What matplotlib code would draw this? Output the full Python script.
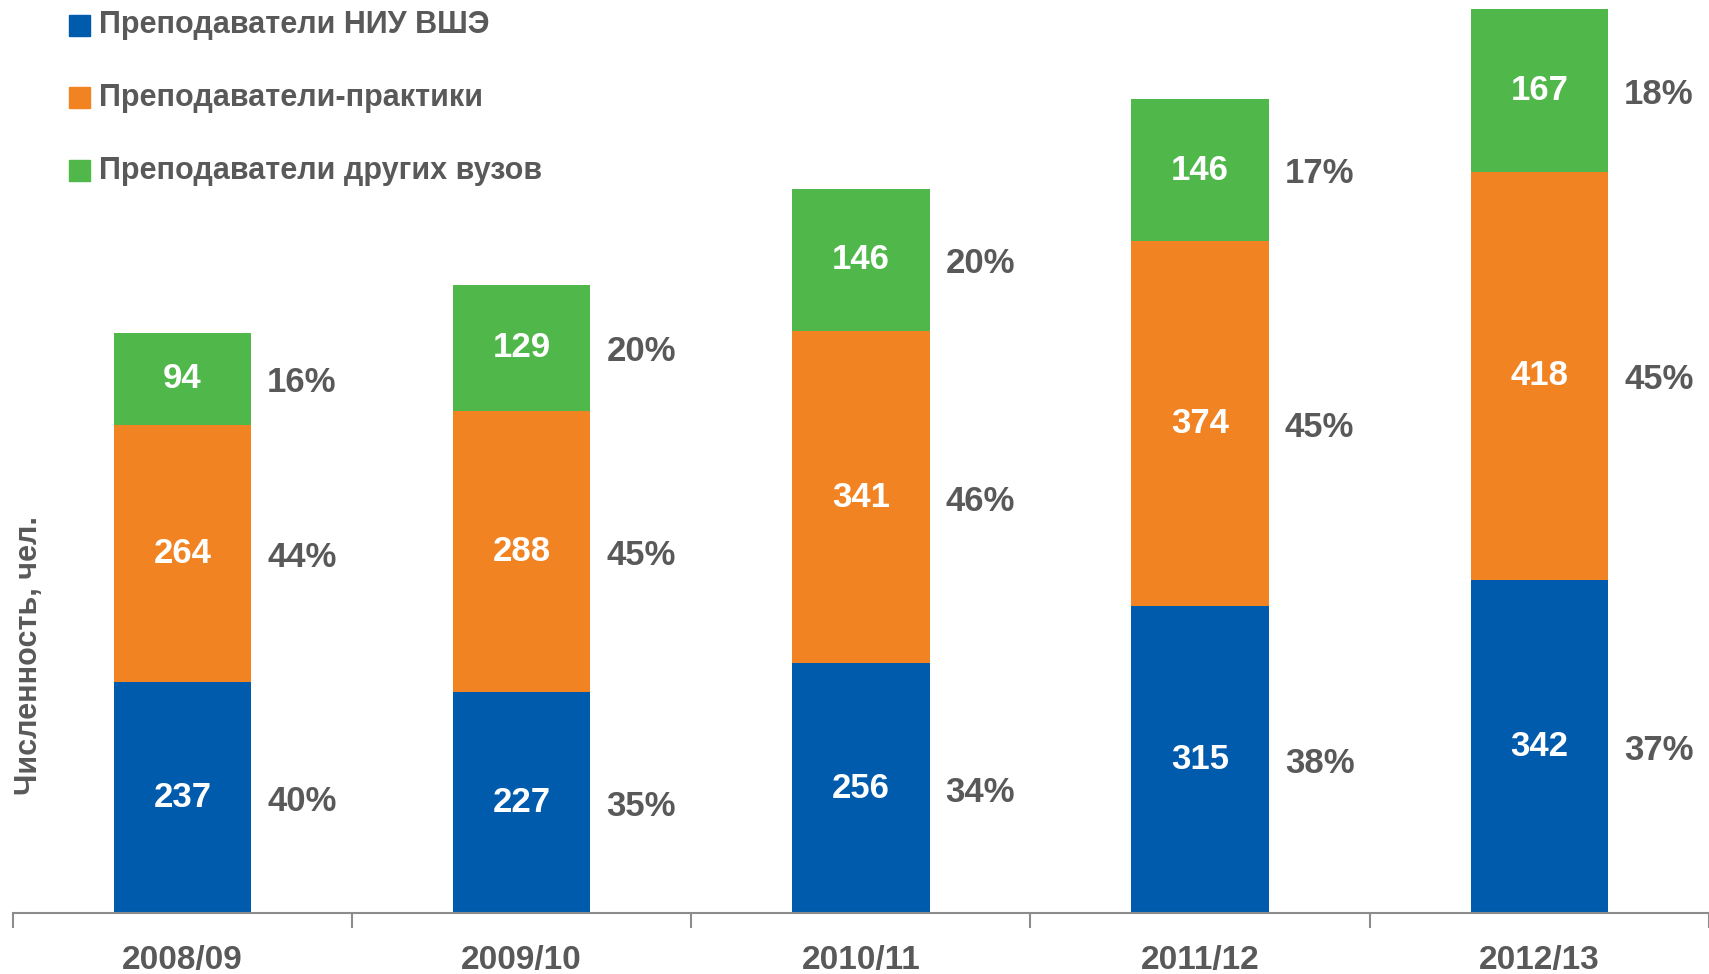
import matplotlib
matplotlib.use("Agg")
import matplotlib.pyplot as plt
import numpy as np

years = ["2008/09", "2009/10", "2010/11", "2011/12", "2012/13"]
hse = [237, 227, 256, 315, 342]
practice = [264, 288, 341, 374, 418]
other = [94, 129, 146, 146, 167]
hse_pct = ["40%", "35%", "34%", "38%", "37%"]
practice_pct = ["44%", "45%", "46%", "45%", "45%"]
other_pct = ["16%", "20%", "20%", "17%", "18%"]
series_names = ["Преподаватели НИУ ВШЭ", "Преподаватели-практики", "Преподаватели других вузов"]

plt.rcParams["font.family"] = ["Liberation Sans", "DejaVu Sans"]

blue = "#005BAC"
orange = "#F28322"
green = "#50B84A"
grey = "#595959"

fig = plt.figure(figsize=(17.09, 9.74), dpi=100)
ax = fig.add_axes([0.00743, 0.0626, 0.99257, 0.9374])

x = np.arange(len(years))
w = 0.405
hse_a = np.array(hse)
pr_a = np.array(practice)
ot_a = np.array(other)

ax.bar(x, hse_a, w, color=blue)
ax.bar(x, pr_a, w, bottom=hse_a, color=orange)
ax.bar(x, ot_a, w, bottom=hse_a + pr_a, color=green)

for i in range(len(years)):
    bottoms = [0, hse[i], hse[i] + practice[i]]
    vals = [hse[i], practice[i], other[i]]
    pcts = [hse_pct[i], practice_pct[i], other_pct[i]]
    for b, v, p in zip(bottoms, vals, pcts):
        yc = b + v / 2
        ax.text(x[i], yc, str(v), ha="center", va="center", color="white",
                fontsize=25, fontweight="bold")
        ax.text(x[i] + 0.352, yc - 4, p, ha="center", va="center", color=grey,
                fontsize=25, fontweight="bold")

ax.set_xlim(-0.5, 4.472)
ax.set_ylim(0, 936.4)
ax.set_yticks([])
for s in ["top", "right", "left"]:
    ax.spines[s].set_visible(False)
ax.spines["bottom"].set_color("#8c8c8c")
ax.spines["bottom"].set_linewidth(1.5)

ax.set_xticks(x)
ax.set_xticklabels(years, fontsize=24, fontweight="bold", color=grey)
ax.tick_params(axis="x", length=0, pad=23)
ax.set_xticks(np.arange(len(years) + 1) - 0.5, minor=True)
ax.tick_params(axis="x", which="minor", length=11, width=1.5, color="#8c8c8c")

# legend: coloured squares with labels
colors = [blue, orange, green]
leg_y = [1 - 25.5 / 974, 1 - 97.7 / 974, 1 - 170.5 / 974]
for c, n, yy in zip(colors, series_names, leg_y):
    fig.patches.append(plt.Rectangle((0.0404, yy - 0.0108), 0.0123, 0.0216,
                                     transform=fig.transFigure, color=c))
    fig.text(0.0579, yy, n, ha="left", va="center", fontsize=22,
             fontweight="bold", color=grey)

fig.text(0.017, 0.3275, "Численность, чел.", rotation=90, ha="center", va="center",
         fontsize=22, fontweight="bold", color=grey)

fig.savefig("out.png", dpi=100)
